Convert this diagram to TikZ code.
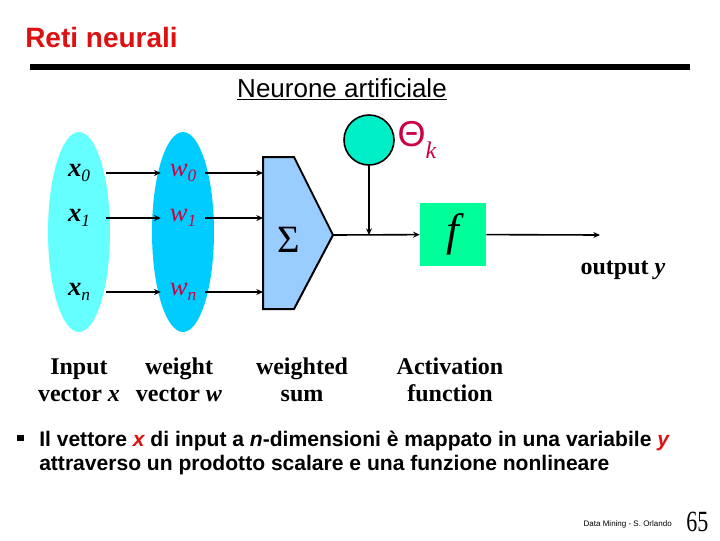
\documentclass[tikz,border=0pt]{standalone}
\usepackage{fontspec}
\setmainfont{Liberation Serif}
\setsansfont{Liberation Sans}
\usepackage{xcolor}
\usetikzlibrary{shapes.geometric, arrows.meta, positioning}
\definecolor{titlered}{RGB}{221,17,17}
\definecolor{inputcyan}{RGB}{102,255,255}
\definecolor{weightcyan}{RGB}{0,204,255}
\definecolor{sumblue}{RGB}{153,204,255}
\definecolor{biasgreen}{RGB}{0,238,200}
\definecolor{actgreen}{RGB}{0,255,153}
\definecolor{weightred}{RGB}{204,0,68}
\newcommand{\idx}[1]{\raisebox{-0.4ex}{\fontsize{13}{13}\selectfont\mdseries\itshape #1}}
\tikzset{
    vecset/.style={ellipse, minimum width=46.5pt, minimum height=150pt, inner sep=0pt},
    xlab/.style={minimum width=40.5pt, inner sep=0pt, font=\fontsize{20}{20}\selectfont\bfseries\itshape},
    wlab/.style={minimum width=33pt, inner sep=0pt, text=weightred, font=\fontsize{20}{20}\selectfont\itshape},
    flow/.style={-{Stealth[length=5pt,width=4.5pt]}, line width=1.2pt},
    caption/.style={align=center, font=\fontsize{18}{20}\selectfont\bfseries},
    bullettext/.style={anchor=base west, inner sep=0pt, font=\fontsize{15.8}{18}\selectfont\sffamily\bfseries}
}
\begin{document}
\begin{tikzpicture}[x=0.75pt, y=-0.75pt]
    \useasboundingbox (0,0) rectangle (720,540);
    % Header
    \node[anchor=base west, inner sep=0pt, text=titlered, font=\fontsize{21}{21}\selectfont\sffamily\bfseries] (title) at (25,47) {Reti neurali};
    \draw[line width=4.5pt] (30,67) -- (690,67);
    \node[anchor=base, inner sep=0pt, font=\fontsize{19.5}{19.5}\selectfont\sffamily] (subtitle) at (342,97) {\underline{Neurone artificiale}};
    
    % Input and weight vectors
    \node[vecset, fill=inputcyan] (xset) at (79,232) {};
    \node[vecset, fill=weightcyan] (wset) at (183,232) {};
    \node[xlab] (x0) at (79,173) {x\idx{0}};
    \node[xlab] (x1) at (79,218) {x\idx{1}};
    \node[xlab] (xn) at (79,292) {x\idx{n}};
    \node[wlab] (w0) at (183,173) {w\idx{0}};
    \node[wlab] (w1) at (183,218) {w\idx{1}};
    \node[wlab] (wn) at (183,292) {w\idx{n}};
    
    % Weighted sum
    \draw[fill=sumblue, line width=1.5pt] (263,157) -- (294,157) -- (333,235) -- (294,309) -- (263,309) -- cycle;
    \node[font=\fontsize{29}{29}\selectfont] (sum) at (289,240) {Σ};
    \coordinate (in0) at (263,173);
    \coordinate (in1) at (263,218);
    \coordinate (inn) at (263,292);
    \coordinate (tip) at (333,235);
    \coordinate (join) at (369,235);
    
    % Bias and activation
    \node[circle, draw, line width=1.2pt, fill=biasgreen, minimum size=37.5pt, inner sep=0pt] (theta) at (369,140) {};
    \node[right=2pt of theta, inner sep=0pt, text=weightred] (thetalab) {\fontsize{27}{27}\selectfont\sffamily Θ\raisebox{-0.6ex}{\fontsize{18}{18}\selectfont\rmfamily\itshape k}};
    \node[fill=actgreen, minimum width=49.5pt, minimum height=47pt, inner sep=0pt, font=\fontsize{34}{34}\selectfont\itshape] (act) at (453,234.5) {\raisebox{-0.15em}{f}};
    \coordinate (out) at (600,235);
    \node[caption] (outlab) at (623,270) {output \textit{y}};
    
    % Flows
    \draw[flow] (x0) -- (w0);
    \draw[flow] (x1) -- (w1);
    \draw[flow] (xn) -- (wn);
    \draw[flow] (w0) -- (in0);
    \draw[flow] (w1) -- (in1);
    \draw[flow] (wn) -- (inn);
    \draw[flow] (tip) -- (act);
    \draw[flow] (theta) -- (join);
    \draw[flow] (act) -- (out);
    
    % Captions
    \node[caption] (capx) at (79,380) {Input\\vector \textit{x}};
    \node[caption] (capw) at (179,380) {weight\\vector \textit{w}};
    \node[caption] (capsum) at (302,380) {weighted\\sum};
    \node[caption] (capact) at (450,380) {Activation\\function};
    
    % Bullet
    \node[fill=black, minimum size=5pt, inner sep=0pt] (bullet) at (20.5,438) {};
    \node[bullettext] (line1) at (39,446) {Il vettore {\color{titlered}\itshape x} di input a {\itshape n}-dimensioni è mappato in una variabile {\color{titlered}\itshape y}};
    \node[bullettext] (line2) at (39,470) {attraverso un prodotto scalare e una funzione nonlineare};
    
    % Footer
    \node[anchor=base east, inner sep=0pt, font=\fontsize{6}{6}\selectfont\sffamily] (footer) at (672,526) {Data Mining - S. Orlando};
    \node[anchor=base west, inner sep=0pt, font=\fontsize{22}{22}\selectfont] (page) at (686,531) {\scalebox{0.75}[1]{65}};
\end{tikzpicture}
\end{document}
